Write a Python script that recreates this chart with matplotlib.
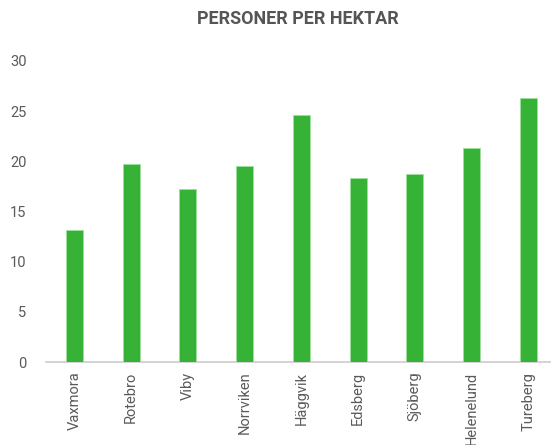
import matplotlib
matplotlib.use('Agg')
import matplotlib.pyplot as plt

# data
areas = ['Vaxmora', 'Rotebro', 'Viby', 'Norrviken', 'Häggvik',
         'Edsberg', 'Sjöberg', 'Helenelund', 'Tureberg']
personer_per_hektar = [13.2, 19.7, 17.2, 19.5, 24.6, 18.3, 18.7, 21.3, 26.3]
y_ticks = [0, 5, 10, 15, 20, 25, 30]

plt.rcParams['font.family'] = ['Roboto', 'DejaVu Sans']

fig = plt.figure(figsize=(5.51, 4.45), dpi=100)
ax = fig.add_axes([46 / 551, 83 / 445, 505 / 551, 301 / 445])

ax.bar(range(len(areas)), personer_per_hektar, width=0.3,
       color='#36b236', edgecolor='#9ee09e', linewidth=0.6, zorder=3)

ax.set_xlim(-0.5, 8.4)
ax.set_ylim(0, 30)
ax.set_yticks(y_ticks)
ax.set_xticks(range(len(areas)))
ax.set_xticklabels(areas, rotation=90, fontsize=10.5, color='#5a5a5a')
ax.tick_params(axis='y', length=0, pad=14, labelsize=10.5, labelcolor='#5a5a5a')
ax.tick_params(axis='x', length=0, pad=7)

for s in ['top', 'right', 'left']:
    ax.spines[s].set_visible(False)
ax.spines['bottom'].set_color('#cccccc')
ax.spines['bottom'].set_linewidth(1.2)

fig.text(298 / 551, 1 - 19 / 445, 'PERSONER PER HEKTAR', ha='center', va='center',
         fontsize=13, fontweight='bold', color='#555555')

fig.savefig('out.png', dpi=100)
